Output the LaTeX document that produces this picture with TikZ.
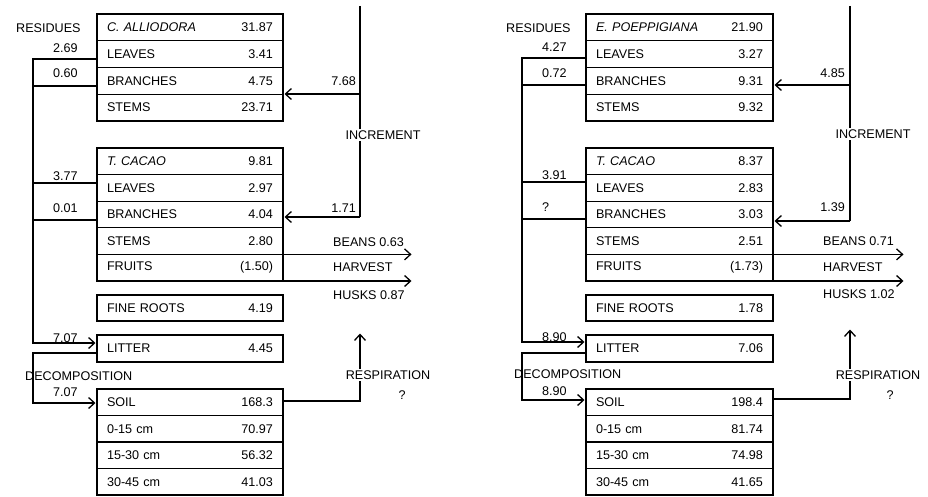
\documentclass[tikz,border=0pt]{standalone}
\usepackage{fontspec}
\setmainfont{Liberation Sans}
\usetikzlibrary{arrows.meta}
\newcommand\fs{\fontsize{12.6}{14}\selectfont}
\tikzset{
 rowbox/.style={draw, line width=1.1pt, outer sep=0pt, inner xsep=10pt, inner ysep=0pt,
   text width=166pt, minimum height=26.75pt, anchor=north west, font=\fs},
 rowboxR/.style={rowbox, text width=167pt},
 frame/.style={draw, line width=2.6pt},
 conn/.style={line width=1.3pt},
 arr/.style={conn, shorten >=1.5pt, -{Straight Barb[length=6pt,width=11pt,line width=1.3pt]}},
 lab/.style={font=\fs, inner sep=1pt},
 gaplab/.style={lab, fill=white, inner sep=2pt},
}
\begin{document}
\begin{tikzpicture}[x=1pt,y=-1pt]
\useasboundingbox (0,0) rectangle (928,497);

% ================= LEFT PANEL =================
\node[rowbox] (L-a1) at (97,14) {\textit{C. ALLIODORA}\hfill 31.87};
\node[rowbox] (L-a2) at (97,40.75) {LEAVES\hfill 3.41};
\node[rowbox] (L-a3) at (97,67.5) {BRANCHES\hfill 4.75};
\node[rowbox] (L-a4) at (97,94.25) {STEMS\hfill 23.71};
\draw[frame] (L-a1.north west) rectangle (L-a4.south east);

\node[rowbox,minimum height=26.6pt] (L-c1) at (97,148) {\textit{T. CACAO}\hfill 9.81};
\node[rowbox,minimum height=26.6pt] (L-c2) at (97,174.6) {LEAVES\hfill 2.97};
\node[rowbox,minimum height=26.6pt] (L-c3) at (97,201.2) {BRANCHES\hfill 4.04};
\node[rowbox,minimum height=26.6pt] (L-c4) at (97,227.8) {STEMS\hfill 2.80};
\node[rowbox,minimum height=26.6pt] (L-c5) at (97,254.4) {FRUITS\hfill (1.50)};
\draw[frame] (L-c1.north west) rectangle (L-c5.south east);

\node[rowbox,minimum height=26pt] (L-fr) at (97,295) {FINE ROOTS\hfill 4.19};
\draw[frame] (L-fr.north west) rectangle (L-fr.south east);

\node[rowbox,minimum height=27pt] (L-lit) at (97,335) {LITTER\hfill 4.45};
\draw[frame] (L-lit.north west) rectangle (L-lit.south east);

\node[rowbox,minimum height=26.5pt] (L-s1) at (97,389) {SOIL\hfill 168.3};
\node[rowbox,minimum height=26.5pt] (L-s2) at (97,415.5) {0-15 cm\hfill 70.97};
\node[rowbox,minimum height=26.5pt] (L-s3) at (97,442) {15-30 cm\hfill 56.32};
\node[rowbox,minimum height=26.5pt] (L-s4) at (97,468.5) {30-45 cm\hfill 41.03};
\draw[frame] (L-s1.north west) rectangle (L-s4.south east);

% residues
\coordinate (L-r1) at (33,59);
\coordinate (L-r2) at (33,86);
\coordinate (L-r3) at (33,183);
\coordinate (L-r4) at (33,220);
\coordinate (L-r5) at (33,343);
\coordinate (L-d1) at (33,353);
\coordinate (L-d2) at (33,403);
\draw[arr] (L-r1 -| L-a2.west) -- (L-r1) -- (L-r5) -- (L-r5 -| L-lit.west);
\draw[conn] (L-r2 -| L-a3.west) -- (L-r2);
\draw[conn] (L-r3 -| L-c2.west) -- (L-r3);
\draw[conn] (L-r4 -| L-c3.west) -- (L-r4);
\draw[arr] (L-d1 -| L-lit.west) -- (L-d1) -- (L-d2) -- (L-d2 -| L-s1.west);

\node[lab,anchor=west] (L-res) at (15,28) {RESIDUES};
\node[lab,anchor=west] (L-f1) at (52,48) {2.69};
\node[lab,anchor=west] (L-f2) at (52,73) {0.60};
\node[lab,anchor=west] (L-f3) at (52,176) {3.77};
\node[lab,anchor=west] (L-f4) at (52,208) {0.01};
\node[lab,anchor=west] (L-f5) at (52,338) {7.07};
\node[lab,anchor=west] (L-dec) at (24,376) {DECOMPOSITION};
\node[lab,anchor=west] (L-f6) at (52,392) {7.07};

% increment
\coordinate (L-i0) at (360,6);
\coordinate (L-i1) at (360,94);
\coordinate (L-i2) at (360,217);
\draw[conn] (L-i0) -- (L-i2);
\draw[arr] (L-i1) -- (L-i1 -| L-a4.east);
\draw[arr] (L-i2) -- (L-i2 -| L-c3.east);
\node[gaplab] (L-inc) at (383,135) {INCREMENT};
\node[lab,anchor=east] (L-g1) at (357,81) {7.68};
\node[lab,anchor=east] (L-g2) at (357,208) {1.71};

% harvest
\coordinate (L-hend) at (413,0);
\draw[arr] (L-c4.south east) -- (L-c4.south east -| L-hend);
\draw[arr] (L-c5.south east) -- (L-c5.south east -| L-hend);
\node[lab,anchor=west] (L-bean) at (332,242) {BEANS 0.63};
\node[lab,anchor=west] (L-harv) at (332,267) {HARVEST};
\node[lab,anchor=west] (L-husk) at (332,295) {HUSKS 0.87};

% respiration
\coordinate (L-p1) at (360,401);
\coordinate (L-p2) at (360,332);
\draw[arr] (L-p1 -| L-s1.east) -- (L-p1) -- (L-p2);
\node[gaplab] (L-resp) at (388,375) {RESPIRATION};
\node[lab] (L-q) at (402,395) {?};

% ================= RIGHT PANEL =================
\node[rowboxR] (R-a1) at (586,14) {\textit{E. POEPPIGIANA}\hfill 21.90};
\node[rowboxR] (R-a2) at (586,40.75) {LEAVES\hfill 3.27};
\node[rowboxR] (R-a3) at (586,67.5) {BRANCHES\hfill 9.31};
\node[rowboxR] (R-a4) at (586,94.25) {STEMS\hfill 9.32};
\draw[frame] (R-a1.north west) rectangle (R-a4.south east);

\node[rowboxR,minimum height=26.6pt] (R-c1) at (586,148) {\textit{T. CACAO}\hfill 8.37};
\node[rowboxR,minimum height=26.6pt] (R-c2) at (586,174.6) {LEAVES\hfill 2.83};
\node[rowboxR,minimum height=26.6pt] (R-c3) at (586,201.2) {BRANCHES\hfill 3.03};
\node[rowboxR,minimum height=26.6pt] (R-c4) at (586,227.8) {STEMS\hfill 2.51};
\node[rowboxR,minimum height=26.6pt] (R-c5) at (586,254.4) {FRUITS\hfill (1.73)};
\draw[frame] (R-c1.north west) rectangle (R-c5.south east);

\node[rowboxR,minimum height=26pt] (R-fr) at (586,295) {FINE ROOTS\hfill 1.78};
\draw[frame] (R-fr.north west) rectangle (R-fr.south east);

\node[rowboxR,minimum height=27pt] (R-lit) at (586,335) {LITTER\hfill 7.06};
\draw[frame] (R-lit.north west) rectangle (R-lit.south east);

\node[rowboxR,minimum height=26.5pt] (R-s1) at (586,389) {SOIL\hfill 198.4};
\node[rowboxR,minimum height=26.5pt] (R-s2) at (586,415.5) {0-15 cm\hfill 81.74};
\node[rowboxR,minimum height=26.5pt] (R-s3) at (586,442) {15-30 cm\hfill 74.98};
\node[rowboxR,minimum height=26.5pt] (R-s4) at (586,468.5) {30-45 cm\hfill 41.65};
\draw[frame] (R-s1.north west) rectangle (R-s4.south east);

% residues
\coordinate (R-r1) at (522,58);
\coordinate (R-r2) at (522,85);
\coordinate (R-r3) at (522,182);
\coordinate (R-r4) at (522,219);
\coordinate (R-r5) at (522,342);
\coordinate (R-d1) at (522,353);
\coordinate (R-d2) at (522,400);
\draw[arr] (R-r1 -| R-a2.west) -- (R-r1) -- (R-r5) -- (R-r5 -| R-lit.west);
\draw[conn] (R-r2 -| R-a3.west) -- (R-r2);
\draw[conn] (R-r3 -| R-c2.west) -- (R-r3);
\draw[conn] (R-r4 -| R-c3.west) -- (R-r4);
\draw[arr] (R-d1 -| R-lit.west) -- (R-d1) -- (R-d2) -- (R-d2 -| R-s1.west);

\node[lab,anchor=west] (R-res) at (505,28) {RESIDUES};
\node[lab,anchor=west] (R-f1) at (541,47) {4.27};
\node[lab,anchor=west] (R-f2) at (541,73) {0.72};
\node[lab,anchor=west] (R-f3) at (541,175) {3.91};
\node[lab,anchor=west] (R-f4) at (541,207) {?};
\node[lab,anchor=west] (R-f5) at (541,337) {8.90};
\node[lab,anchor=west] (R-dec) at (513,374) {DECOMPOSITION};
\node[lab,anchor=west] (R-f6) at (541,391) {8.90};

% increment
\coordinate (R-i0) at (850,6);
\coordinate (R-i1) at (850,85);
\coordinate (R-i2) at (850,221);
\draw[conn] (R-i0) -- (R-i2);
\draw[arr] (R-i1) -- (R-i1 -| R-a4.east);
\draw[arr] (R-i2) -- (R-i2 -| R-c3.east);
\node[gaplab] (R-inc) at (873,134) {INCREMENT};
\node[lab,anchor=east] (R-g1) at (846,73) {4.85};
\node[lab,anchor=east] (R-g2) at (846,207) {1.39};

% harvest
\coordinate (R-hend) at (905,0);
\draw[arr] (R-c4.south east) -- (R-c4.south east -| R-hend);
\draw[arr] (R-c5.south east) -- (R-c5.south east -| R-hend);
\node[lab,anchor=west] (R-bean) at (822,241) {BEANS 0.71};
\node[lab,anchor=west] (R-harv) at (822,267) {HARVEST};
\node[lab,anchor=west] (R-husk) at (822,294) {HUSKS 1.02};

% respiration
\coordinate (R-p1) at (850,399);
\coordinate (R-p2) at (850,328);
\draw[arr] (R-p1 -| R-s1.east) -- (R-p1) -- (R-p2);
\node[gaplab] (R-resp) at (878,375) {RESPIRATION};
\node[lab] (R-q) at (890,395) {?};
\end{tikzpicture}
\end{document}
